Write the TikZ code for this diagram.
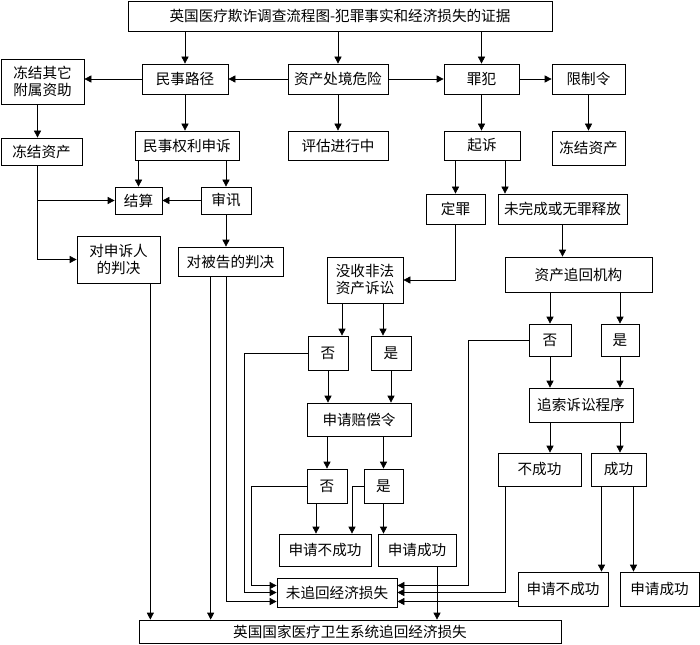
\documentclass[tikz,border=0pt]{standalone}
\usepackage{fontspec}
\usepackage{tikz}
\usetikzlibrary{arrows.meta}
\newfontfamily\cjk{Noto Sans CJK SC}

\begin{document}
\begin{tikzpicture}[x=1pt, y=-1pt, >={Triangle[length=7pt,width=7pt]},
    every node/.style={font=\cjk\fontsize{14.6}{17}\selectfont},
    box/.style={draw, line width=0.7pt, rectangle, inner sep=0pt, align=center},
    arr/.style={->, line width=0.7pt}]
                \useasboundingbox (0,0) rectangle (700,644);

                % Top row
                \node[box, minimum width=424, minimum height=30] (title) at (340, 16) {英国医疗欺诈调查流程图-犯罪事实和经济损失的证据};
                \node[box, minimum width=83, minimum height=45] (fzqt) at (42.5, 81.5) {冻结其它\\附属资助};
                \node[box, minimum width=86, minimum height=30] (mslj) at (185, 79) {民事路径};
                \node[box, minimum width=100, minimum height=30] (zccj) at (338, 79) {资产处境危险};
                \node[box, minimum width=75, minimum height=30] (zf) at (481.5, 79) {罪犯};
                \node[box, minimum width=73, minimum height=30] (xzl) at (588.5, 79) {限制令};

                % Second row
                \node[box, minimum width=81, minimum height=27] (fzzcA) at (41.5, 151.5) {冻结资产};
                \node[box, minimum width=104, minimum height=29] (msss) at (187, 145.5) {民事权利申诉};
                \node[box, minimum width=100, minimum height=29] (pg) at (338, 145.5) {评估进行中};
                \node[box, minimum width=76, minimum height=29] (qs) at (482, 145.5) {起诉};
                \node[box, minimum width=73, minimum height=34] (fzzcB) at (588.5, 148) {冻结资产};

                % Civil side
                \node[box, minimum width=47, minimum height=27] (js) at (138.5, 200.5) {结算};
                \node[box, minimum width=50, minimum height=27] (sx) at (226, 200.5) {审讯};
                \node[box, minimum width=83, minimum height=47] (pjss) at (118.5, 259.5) {对申诉人\\的判决};
                \node[box, minimum width=105, minimum height=29] (pjbg) at (230.5, 261.5) {对被告的判决};

                % Criminal side
                \node[box, minimum width=59, minimum height=30] (dz) at (455.5, 209) {定罪};
                \node[box, minimum width=129, minimum height=30] (wwc) at (562.5, 209) {未完成或无罪释放};
                \node[box, minimum width=76, minimum height=46] (ms) at (365, 280) {没收非法\\资产诉讼};
                \node[box, minimum width=147, minimum height=35] (zhjg) at (578.5, 274.5) {资产追回机构};

                % Yes / no boxes
                \node[box, minimum width=40, minimum height=34] (fouA) at (328, 353) {否};
                \node[box, minimum width=40, minimum height=34] (shiA) at (391, 353) {是};
                \node[box, minimum width=42, minimum height=32] (fouB) at (550, 340) {否};
                \node[box, minimum width=38, minimum height=32] (shiB) at (620, 340) {是};
                \node[box, minimum width=104, minimum height=33] (pcl) at (359, 419.5) {申请赔偿令};
                \node[box, minimum width=104, minimum height=34] (zsss) at (581, 405) {追索诉讼程序};
                \node[box, minimum width=40, minimum height=34] (fouC) at (327, 486) {否};
                \node[box, minimum width=39, minimum height=34] (shiC) at (383.5, 486) {是};
                \node[box, minimum width=83, minimum height=33] (bcg) at (539.5, 469.5) {不成功};
                \node[box, minimum width=55, minimum height=33] (cg) at (618.5, 469.5) {成功};

                % Results
                \node[box, minimum width=92, minimum height=32] (sqbcgA) at (325, 550) {申请不成功};
                \node[box, minimum width=78, minimum height=32] (sqcgA) at (417, 550) {申请成功};
                \node[box, minimum width=120, minimum height=29] (wzh) at (337, 592.5) {未追回经济损失};
                \node[box, minimum width=90, minimum height=34] (sqbcgB) at (563, 589) {申请不成功};
                \node[box, minimum width=79, minimum height=34] (sqcgB) at (659.5, 589) {申请成功};
                \node[box, minimum width=422, minimum height=23] (nhs) at (350, 631.5) {英国国家医疗卫生系统追回经济损失};

                % Arrows from the top
                \draw[arr] (title.south -| mslj) -- (mslj);
                \draw[arr] (title.south -| zccj) -- (zccj);
                \draw[arr] (title.south -| zf) -- (zf);
                \draw[arr] (zccj) -- (mslj);
                \draw[arr] (zccj) -- (zf);
                \draw[arr] (zf) -- (xzl);
                \draw[arr] (mslj.west) -- (mslj.west -| fzqt.east);
                \draw[arr] ([xshift=-5]fzqt.south) -- ([xshift=-5]fzqt.south |- fzzcA.north);
                \draw[arr] (mslj.south) -- (mslj.south |- msss.north);
                \draw[arr] (zccj) -- (pg);
                \draw[arr] (zf) -- (zf |- qs.north);
                \draw[arr] (xzl) -- (fzzcB);

                % Civil route
                \draw[arr] (msss.south -| js) -- (js);
                \draw[arr] (msss.south -| sx) -- (sx);
                \draw[arr] (sx) -- (js);
                \draw[arr] ([xshift=-4]fzzcA.south) |- (js);
                \draw[arr] ([xshift=-4]fzzcA.south) |- (pjss);
                \draw[arr] (sx.south) -- (sx.south |- pjbg.north);
                \draw[arr] ([xshift=-10]pjss.south east) -- ([xshift=-10]pjss.south east |- nhs.north);
                \draw[arr] ([xshift=33]pjbg.south west) -- ([xshift=33]pjbg.south west |- nhs.north);
                \draw[arr] ([xshift=49]pjbg.south west) |- ([yshift=-9]wzh.west);

                % Criminal route
                \draw[arr] (qs.south -| dz) -- (dz);
                \draw[arr] ([xshift=23]qs.south) -- ([xshift=23]qs.south |- wwc.north);
                \draw[arr] (dz) |- (ms);
                \draw[arr] (wwc) -- (wwc |- zhjg.north);

                % Confiscation
                \draw[arr] ([xshift=-23]ms.south) -- ([xshift=-23]ms.south |- fouA.north);
                \draw[arr] ([xshift=18]ms.south) -- ([xshift=18]ms.south |- shiA.north);
                \draw[arr] (fouA) -- (fouA |- pcl.north);
                \draw[arr] (shiA) -- (shiA |- pcl.north);
                \draw[arr] (pcl.south -| fouC) -- (fouC);
                \draw[arr] (pcl.south -| shiC) -- (shiC);
                \draw[arr] ([xshift=-11]fouC.south) -- ([xshift=-11]fouC.south |- sqbcgA.north);
                \draw[arr] (shiC.west) -| ([xshift=27]sqbcgA.north);
                \draw[arr] (shiC) -- (shiC |- sqcgA.north);
                \draw[arr] ([xshift=20]sqcgA.south) -- ([xshift=20]sqcgA.south |- nhs.north);
                \draw[arr] (fouA.west) -- ++(-63,0) |- (wzh.west);
                \draw[arr] (fouC.west) -- ++(-55,0) |- ([yshift=7]wzh.west);

                % Recovery agency
                \draw[arr] (zhjg.south -| fouB) -- (fouB);
                \draw[arr] (zhjg.south -| shiB) -- (shiB);
                \draw[arr] (fouB) -- (fouB |- zsss.north);
                \draw[arr] (shiB) -- (shiB |- zsss.north);
                \draw[arr] (fouB |- zsss.south) -- (fouB |- bcg.north);
                \draw[arr] (shiB |- zsss.south) -- (shiB |- cg.north);
                \draw[arr] ([xshift=-17]cg.south) -- ([xshift=-17]cg.south |- sqbcgB.north);
                \draw[arr] ([xshift=15]cg.south) -- ([xshift=15]cg.south |- sqcgB.north);
                \draw[arr] (fouB.west) -- ++(-60,0) |- ([yshift=7]wzh.east);
                \draw[arr] ([xshift=-34]bcg.south) |- (wzh.east);
                \draw[arr] ([yshift=-9]wzh.east -| sqbcgB.west) -- ([yshift=-9]wzh.east);
            \end{tikzpicture}
\end{document}
